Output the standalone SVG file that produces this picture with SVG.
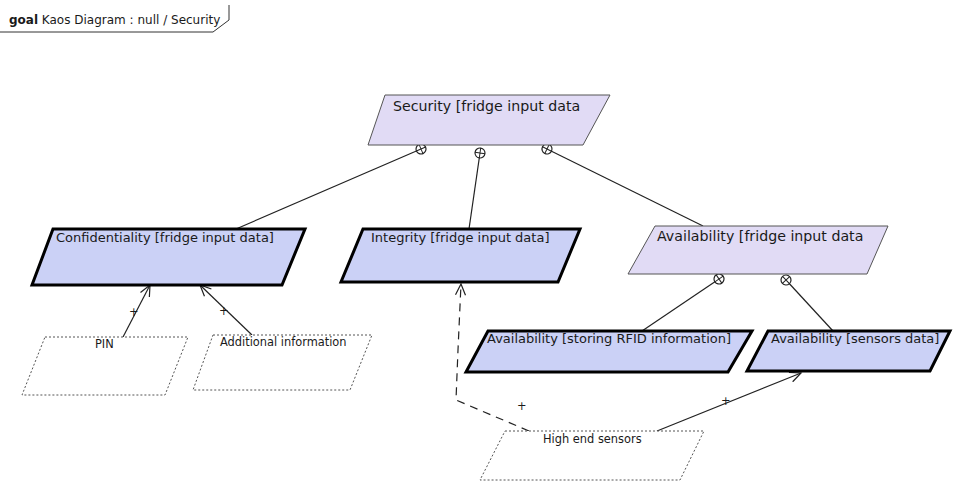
<svg xmlns="http://www.w3.org/2000/svg" width="954" height="481" viewBox="0 0 954 481">
<style>
text{font-family:"DejaVu Sans",Verdana,sans-serif;fill:#1a1a1a}
.lbl{font-size:13px}
.big{font-size:14.2px}
.sm{font-size:11.4px}
.goal{fill:#cbd1f6;stroke:#000;stroke-width:3;stroke-linejoin:miter}
.ref{fill:#e1dbf5;stroke:#555;stroke-width:1}
.dom{fill:#fff;stroke:#555;stroke-width:1;stroke-dasharray:2,2}
.ln{fill:none;stroke:#222;stroke-width:1.2}
.dash{fill:none;stroke:#222;stroke-width:1.2;stroke-dasharray:8,6}
.ring{fill:#fff;stroke:#222;stroke-width:1.2}
</style>
<defs>
<marker id="arr" markerUnits="userSpaceOnUse" markerWidth="14" markerHeight="12" refX="12" refY="6" orient="auto">
<path d="M1,1 L12,6 L1,11" fill="none" stroke="#222" stroke-width="1.2"/>
</marker>
<g id="ring">
<circle r="5" class="ring"/>
<path d="M-5,0 L5,0 M0,-5 L0,5" stroke="#222" stroke-width="1"/>
</g>
</defs>
<g id="frame">
<path d="M0,32 L213,32 L229,20 L229,5" fill="none" stroke="#333" stroke-width="1"/>
<text x="9" y="24" style="font-size:12px"><tspan font-weight="bold">goal</tspan> Kaos Diagram : null / Security</text>
</g>
<g id="connectors">
<line class="ln" x1="421" y1="149" x2="236" y2="229"/>
<line class="ln" x1="480" y1="153" x2="469" y2="229"/>
<line class="ln" x1="547" y1="149" x2="703" y2="226"/>
<line class="ln" x1="719" y1="279" x2="642" y2="331"/>
<line class="ln" x1="786" y1="280" x2="833" y2="331"/>
<line class="ln" x1="123" y1="337" x2="150" y2="285" marker-end="url(#arr)"/>
<line class="ln" x1="252" y1="335" x2="200" y2="285" marker-end="url(#arr)"/>
<polyline class="dash" points="529,431 456,400 458,350 461,284" marker-end="url(#arr)"/>
<line class="ln" x1="657" y1="431" x2="801" y2="373" marker-end="url(#arr)"/>
<use href="#ring" transform="translate(421,149) rotate(156.6)"/>
<use href="#ring" transform="translate(480,153) rotate(98)"/>
<use href="#ring" transform="translate(547,149) rotate(26.3)"/>
<use href="#ring" transform="translate(719,279) rotate(146)"/>
<use href="#ring" transform="translate(786,280) rotate(47)"/>
<text class="sm" x="129" y="316">+</text>
<text class="sm" x="219" y="315">+</text>
<text class="sm" x="517" y="410">+</text>
<text class="sm" x="721" y="405">+</text>
</g>
<g id="security">
<polygon class="ref" points="385,95 610,95 583,145 368,145"/>
<text class="big" x="393" y="111">Security [fridge input data</text>
</g>
<g id="confidentiality">
<polygon class="goal" points="53,229 305,229 282,285 32,285"/>
<text class="lbl" x="56" y="242">Confidentiality [fridge input data]</text>
</g>
<g id="integrity">
<polygon class="goal" points="363,229 580,229 558,282 341,282"/>
<text class="lbl" x="371" y="242">Integrity [fridge input data]</text>
</g>
<g id="availability">
<polygon class="ref" points="655,226 888,226 867,274 628,274"/>
<text class="big" x="657" y="241">Availability [fridge input data</text>
</g>
<g id="avail-rfid">
<polygon class="goal" points="488,331 752,331 728,372 466,372"/>
<text class="lbl" x="487" y="343">Availability [storing RFID information]</text>
</g>
<g id="avail-sensors">
<polygon class="goal" points="768,331 950,331 930,371 747,371"/>
<text class="lbl" x="771" y="343">Availability [sensors data]</text>
</g>
<g id="pin">
<polygon class="dom" points="45,337 188,337 165,395 22,395"/>
<text class="sm" x="95" y="348">PIN</text>
</g>
<g id="additional">
<polygon class="dom" points="213,335 372,335 350,390 193,390"/>
<text class="sm" x="220" y="346">Additional information</text>
</g>
<g id="sensors">
<polygon class="dom" points="505,431 704,431 680,480 480,480"/>
<text class="sm" x="543" y="443">High end sensors</text>
</g>
</svg>
